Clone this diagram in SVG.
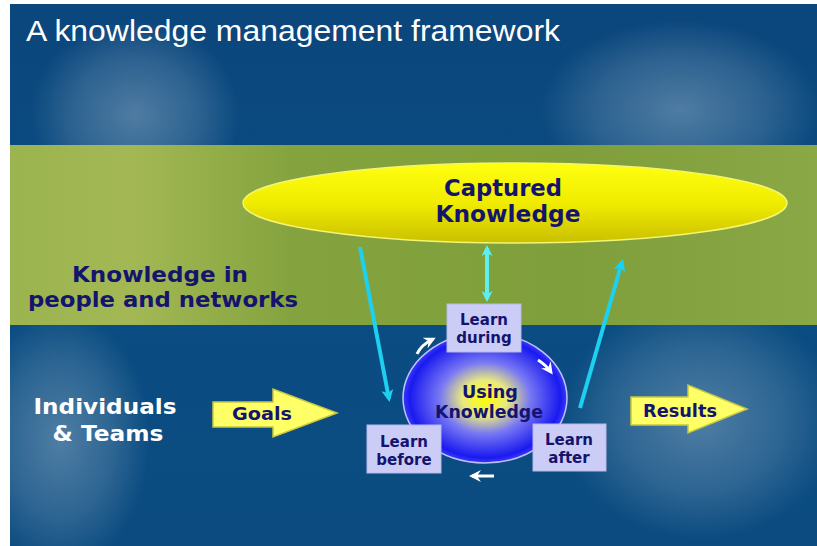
<svg xmlns="http://www.w3.org/2000/svg" width="817" height="546" viewBox="0 0 817 546">
<defs>
<linearGradient id="bg" x1="0" y1="0" x2="0" y2="1">
<stop offset="0" stop-color="#0b467c"/>
<stop offset="0.5" stop-color="#0a4d82"/>
<stop offset="1" stop-color="#0b4b80"/>
</linearGradient>
<radialGradient id="glow" cx="0.5" cy="0.5" r="0.5">
<stop offset="0" stop-color="#ffffff" stop-opacity="0.28"/>
<stop offset="0.6" stop-color="#ffffff" stop-opacity="0.14"/>
<stop offset="1" stop-color="#ffffff" stop-opacity="0"/>
</radialGradient>
<linearGradient id="band" x1="0" y1="0" x2="1" y2="0">
<stop offset="0" stop-color="#9bb450"/>
<stop offset="0.15" stop-color="#a3b854"/>
<stop offset="0.35" stop-color="#84a33e"/>
<stop offset="0.7" stop-color="#7f9f3c"/>
<stop offset="1" stop-color="#8aa845"/>
</linearGradient>
<linearGradient id="ell" x1="0" y1="0" x2="0" y2="1">
<stop offset="0" stop-color="#ffff10"/>
<stop offset="0.5" stop-color="#f0ec00"/>
<stop offset="1" stop-color="#c9c000"/>
</linearGradient>
<radialGradient id="sphere" cx="0.5" cy="0.5" r="0.5">
<stop offset="0" stop-color="#ffff00"/>
<stop offset="0.28" stop-color="#e8e880"/>
<stop offset="0.55" stop-color="#7878f4"/>
<stop offset="0.92" stop-color="#1a1af0"/>
<stop offset="1" stop-color="#3a3af8"/>
</radialGradient>
<marker id="cy" markerWidth="12" markerHeight="12" refX="9" refY="6" orient="auto" markerUnits="userSpaceOnUse" viewBox="0 0 12 12">
<path d="M0,0 L12,6 L0,12 L3,6 Z" fill="#1ed0f0"/>
</marker>
<marker id="cy2" markerWidth="11" markerHeight="11" refX="8" refY="5.5" orient="auto-start-reverse" markerUnits="userSpaceOnUse" viewBox="0 0 11 11">
<path d="M0,0 L11,5.5 L0,11 L3,5.5 Z" fill="#5ef0f0"/>
</marker>
<marker id="wh" markerWidth="12" markerHeight="12" refX="9" refY="6" orient="auto" markerUnits="userSpaceOnUse" viewBox="0 0 12 12">
<path d="M0,0 L12,6 L0,12 L4,6 Z" fill="#ffffff"/>
</marker>
<style>
.t{font-family:"DejaVu Sans",Verdana,sans-serif;font-weight:bold;fill:#14146e;text-anchor:middle}
.box{fill:#cccdf6;stroke:#b8b8e8;stroke-width:1}
.blk{fill:#ffff66;stroke:#c8c840;stroke-width:1.5}
.cl{stroke:#1ed0f0;stroke-width:4;fill:none}
.wa{stroke:#ffffff;stroke-width:3;fill:none;marker-end:url(#wh)}
</style>
</defs>

<g id="background">
<rect x="10" y="4" width="807" height="542" fill="url(#bg)"/>
<ellipse cx="135" cy="115" rx="105" ry="95" fill="url(#glow)"/>
<ellipse cx="60" cy="440" rx="90" ry="130" fill="url(#glow)"/>
<ellipse cx="680" cy="110" rx="140" ry="90" fill="url(#glow)"/>
<ellipse cx="700" cy="420" rx="140" ry="120" fill="url(#glow)"/>
<rect x="10" y="145" width="807" height="180" fill="url(#band)"/>
<text x="26" y="41" font-family="Liberation Sans,Arial,sans-serif" font-size="30" fill="#ffffff" textLength="534" lengthAdjust="spacingAndGlyphs">A knowledge management framework</text>
</g>

<g id="people-label">
<text class="t" x="160" y="282" font-size="22" textLength="176" lengthAdjust="spacingAndGlyphs">Knowledge in</text>
<text class="t" x="163" y="307" font-size="22" textLength="270" lengthAdjust="spacingAndGlyphs">people and networks</text>
</g>

<g id="teams-label">
<text class="t" x="105" y="414" font-size="22" style="fill:#ffffff" textLength="143" lengthAdjust="spacingAndGlyphs">Individuals</text>
<text class="t" x="108" y="441" font-size="22" style="fill:#ffffff" textLength="111" lengthAdjust="spacingAndGlyphs">&amp; Teams</text>
</g>

<g id="captured-knowledge">
<ellipse cx="515" cy="203" rx="272" ry="40" fill="url(#ell)" stroke="#f4f470" stroke-width="1.5"/>
<text class="t" x="503" y="196" font-size="23" textLength="118" lengthAdjust="spacingAndGlyphs">Captured</text>
<text class="t" x="508" y="222" font-size="23" textLength="145" lengthAdjust="spacingAndGlyphs">Knowledge</text>
</g>

<g id="using-knowledge">
<ellipse cx="485" cy="398" rx="82" ry="65" fill="url(#sphere)" stroke="#c0c0ff" stroke-width="1.5"/>
<path class="wa" d="M417,354 Q421,345 433,339"/>
<path class="wa" d="M538,360 Q546,365 551,372"/>
<path class="wa" d="M494,476 L472,476"/>
<text class="t" x="490" y="398" font-size="17.5" textLength="56" lengthAdjust="spacingAndGlyphs">Using</text>
<text class="t" x="489" y="418" font-size="17.5" textLength="108" lengthAdjust="spacingAndGlyphs">Knowledge</text>
</g>

<g id="connectors">
<line class="cl" x1="360" y1="247" x2="389" y2="399" marker-end="url(#cy)"/>
<line class="cl" x1="580" y1="408" x2="622" y2="262" marker-end="url(#cy)"/>
<line x1="487" y1="248" x2="487" y2="299" stroke="#5ef0f0" stroke-width="4" marker-start="url(#cy2)" marker-end="url(#cy2)"/>
</g>

<g id="learn-during">
<rect class="box" x="447" y="304" width="74" height="48"/>
<text class="t" x="484" y="325" font-size="15">Learn</text>
<text class="t" x="484" y="343" font-size="15">during</text>
</g>

<g id="learn-before">
<rect class="box" x="367" y="425" width="74" height="48"/>
<text class="t" x="404" y="447" font-size="15">Learn</text>
<text class="t" x="404" y="465" font-size="15">before</text>
</g>

<g id="learn-after">
<rect class="box" x="533" y="424" width="73" height="47"/>
<text class="t" x="569" y="445" font-size="15">Learn</text>
<text class="t" x="569" y="463" font-size="15">after</text>
</g>

<g id="goals">
<path class="blk" d="M213,402 L273,402 L273,389 L337,413 L273,437 L273,427 L213,427 Z"/>
<text class="t" x="262" y="420" font-size="18" textLength="60" lengthAdjust="spacingAndGlyphs">Goals</text>
</g>

<g id="results">
<path class="blk" d="M631,397 L688,397 L688,385 L747,409 L688,433 L688,425 L631,425 Z"/>
<text class="t" x="680" y="417" font-size="17" textLength="74" lengthAdjust="spacingAndGlyphs">Results</text>
</g>
</svg>
